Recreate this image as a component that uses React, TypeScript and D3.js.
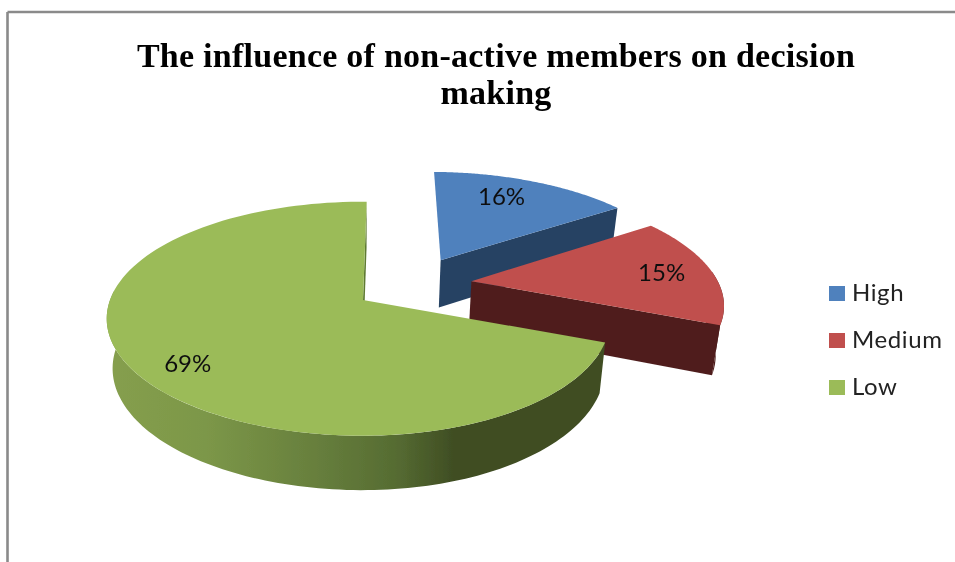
import React from "react";
import * as d3 from "d3";

const categories = ["High", "Medium", "Low"];
const values = [16, 15, 69];
const labels = ["16%", "15%", "69%"];
const topColors = ["#4F81BD", "#C0504D", "#9BBB59"];
const wallColors = ["#264264", "#4F1F1E", "#5E7A32"];
const titleLines = ["The influence of non-active members on decision", "making"];
// explosion of each slice on the pie's own plane, in radii
const explodeU = [0.325, 0.44, 0];
const explodeV = [-0.37, -0.17, 0];

const W = 955, H = 562;
const cx = 363, cy = 300, rx = 253, ry = 114, k = 0.16;
const deg = Math.PI / 180;
const rotation = 1 * deg;
// the 3D view squeezes the slice boundaries a little
const startTrim = [0, -2.5 * deg, -2 * deg];
const endTrim = [-2.5 * deg, 0, 0];
const rightSqueeze = [1, 1, 0.965];
const labelRadius = [0.75, 0.79, 0.82];
const labelTurn = [-5 * deg, -1 * deg, -6 * deg];

const pieGen = d3.pie<number>().sort(null).startAngle(rotation).endAngle(rotation + 2 * Math.PI);
const arcs = pieGen(values);

type P = [number, number];
const projectTop = (u: number, v: number): P => {
  const s = 1 / (1 - k * v);
  return [cx + rx * u * s, cy + ry * v * s];
};
const toBottom = ([x, y]: P): P => [cx + (x - cx) * 0.977, cy + (y - cy) * 1.04 + 49];
const line = d3.line<P>();

const rim = (i: number, a: number): P => {
  const sin = Math.sin(a);
  return projectTop(explodeU[i] + (sin > 0 ? sin * rightSqueeze[i] : sin), explodeV[i] - Math.cos(a));
};
const apex = (i: number): P => projectTop(explodeU[i], explodeV[i]);
const rimPts = (i: number, a0: number, a1: number): P[] =>
  d3.range(0, 121).map((t) => rim(i, a0 + ((a1 - a0) * t) / 120));

const closed = (pts: P[]) => line(pts) + "Z";
const face = (a: P, b: P) => closed([a, b, toBottom(b), toBottom(a)]);

export default function App() {
  return (
    <svg
      width={W}
      height={H}
      viewBox={`0 0 ${W} ${H}`}
      style={{ position: "absolute", left: 0, top: 0, display: "block", background: "#fff" }}
    >
      <defs>
        <linearGradient id="lowWall" gradientUnits="userSpaceOnUse" x1={106} x2={605} y1={0} y2={0}>
          <stop offset="0" stopColor="#869F4E" />
          <stop offset="0.2" stopColor="#7C9748" />
          <stop offset="0.42" stopColor="#677F3D" />
          <stop offset="0.58" stopColor="#566C32" />
          <stop offset="0.7" stopColor="#3F4D23" />
          <stop offset="1" stopColor="#3F4D23" />
        </linearGradient>
        <filter id="soft" x="0" y="0" width="100%" height="100%" filterUnits="userSpaceOnUse">
          <feGaussianBlur stdDeviation={0.45} />
        </filter>
      </defs>
      <g filter="url(#soft)">
        <g stroke="#8A8A8A" strokeWidth={2.6} fill="none">
          <line x1={7.5} y1={12} x2={W} y2={12} />
          <line x1={7.5} y1={12} x2={7.5} y2={H} />
        </g>
        {titleLines.map((t, i) => (
          <text
            key={t}
            x={496}
            y={67 + i * 37}
            textAnchor="middle"
            fontFamily="'Liberation Serif', serif"
            fontWeight={700}
            fontSize={34}
            letterSpacing={0.25}
            fill="#000"
          >
            {t}
          </text>
        ))}
        {arcs.map((d, i) => {
          const a0 = d.startAngle + startTrim[i];
          const a1 = d.endAngle + endTrim[i];
          const top = rimPts(i, a0, a1);
          const w0 = Math.max(a0, 85 * deg);
          const w1 = Math.min(a1, 275 * deg);
          const front = w1 > w0 ? rimPts(i, w0, w1) : [];
          const A = apex(i);
          return (
            <g key={categories[i]}>
              {front.length > 0 && (
                <path
                  d={closed([...front, ...front.map(toBottom).reverse()])}
                  fill={i === 2 ? "url(#lowWall)" : wallColors[i]}
                />
              )}
              <path d={face(A, rim(i, a1))} fill={wallColors[i]} />
              <path d={closed([A, ...top])} fill={topColors[i]} />
            </g>
          );
        })}
        {arcs.map((d, i) => {
          const mid = (d.startAngle + d.endAngle) / 2 + labelTurn[i];
          const [x, y] = projectTop(
            explodeU[i] + labelRadius[i] * Math.sin(mid),
            explodeV[i] - labelRadius[i] * Math.cos(mid)
          );
          return (
            <text
              key={labels[i]}
              x={x}
              y={y + 8}
              textAnchor="middle"
              fontFamily="Lato, sans-serif"
              fontSize={24}
              fill="#111"
            >
              {labels[i]}
            </text>
          );
        })}
        {categories.map((c, i) => (
          <g key={c} transform={`translate(829,${286 + i * 47})`}>
            <rect width={16} height={15} fill={topColors[i]} />
            <text x={23} y={15} fontFamily="Lato, sans-serif" fontSize={24} letterSpacing={0.6} fill="#222">
              {c}
            </text>
          </g>
        ))}
      </g>
    </svg>
  );
}
